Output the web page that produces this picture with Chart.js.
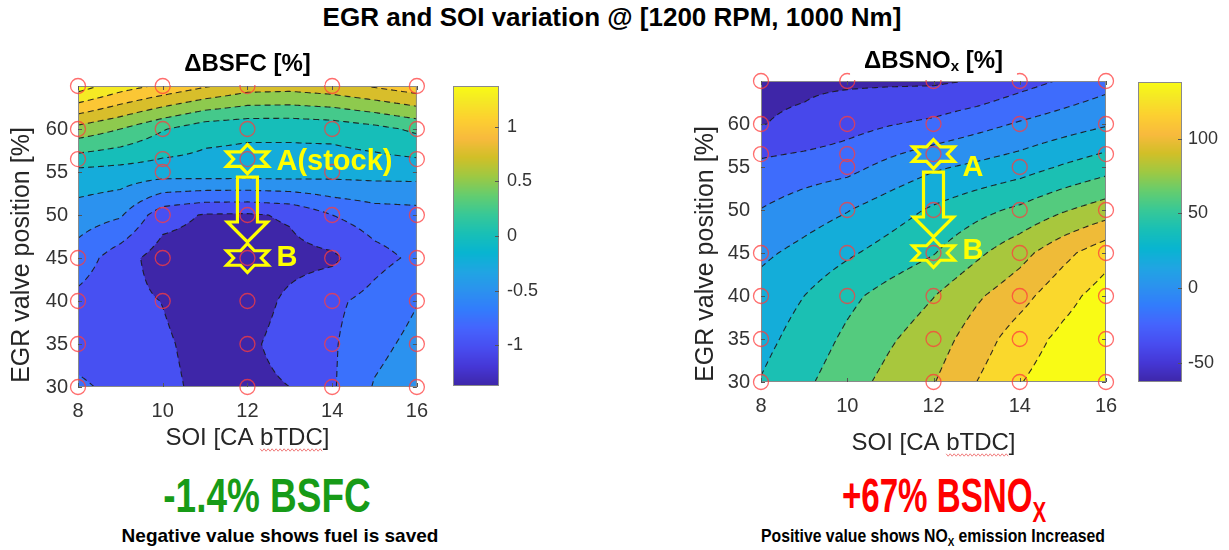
<!DOCTYPE html>
<html>
<head>
<meta charset="utf-8">
<script src="https://cdn.jsdelivr.net/npm/chart.js@4/dist/chart.umd.min.js"></script>
<style>
  body { margin: 0; width: 1229px; height: 550px; overflow: hidden; position: relative; background: #fff;
         font-family: "Liberation Sans", Arial, Helvetica, sans-serif; }
  canvas { position: absolute; top: 0; }
  .t { position: absolute; white-space: nowrap; font-weight: bold; line-height: 1; }
  .main { font-size: 26px; color: #000; transform: translateX(-50%); }
  .big { font-size: 48px; }
  .small { font-size: 19px; color: #000; }
  .sub { font-size: 0.62em; position: relative; top: 0.32em; }
</style>
</head>
<body>
<div class="t main" style="left:612px; top:4px">EGR and SOI variation @ [1200 RPM, 1000 Nm]</div>
<canvas id="bsfc" width="440" height="460" style="left:0"></canvas>
<canvas id="bsfcBar" width="100" height="460" style="left:440px"></canvas>
<canvas id="nox" width="440" height="460" style="left:690px"></canvas>
<canvas id="noxBar" width="99" height="460" style="left:1130px"></canvas>
<div class="t big" style="left:267px; top:472px; color:#179b17; transform:translateX(-50%) scaleX(0.77)">-1.4% BSFC</div>
<div class="t small" style="left:280px; top:526px; transform:translateX(-50%) scaleX(1)">Negative value shows fuel is saved</div>
<div class="t big" style="left:944px; top:472px; color:#ff0000; transform:translateX(-50%) scaleX(0.69)">+67% BSNO<span class="sub">X</span></div>
<div class="t small" style="left:933px; top:526px; transform:translateX(-50%) scaleX(0.83)">Positive value shows NO<span class="sub">X</span> emission Increased</div>

<script>
const FONT = '"Liberation Sans", Arial, Helvetica, sans-serif';

// measurement grid: start of injection (columns) x EGR valve position (rows)
const soiAxis = [8, 9, 10, 11, 12, 13, 14, 15, 16];
const egrAxis = [30, 35, 40, 45, 50, 55, 60, 65];
const soiTicks = [8, 10, 12, 14, 16];
const egrTicks = [30, 35, 40, 45, 50, 55, 60];

// change in BSFC [%], one row per EGR position
const bsfcDelta = [
  [-0.95, -1.08, -1.2,   -1.3,  -1.32, -1.25, -1.03, -0.73, -0.6],
  [-1.12, -1.18, -1.22,  -1.32, -1.3,  -1.15, -1.03, -0.82, -0.68],
  [-1.07, -1.18, -1.255, -1.36, -1.37, -1.2,  -1.05, -0.92, -0.76],
  [-0.86, -1.14, -1.37,  -1.37, -1.36, -1.33, -1.3,  -1.08, -0.95],
  [-0.62, -0.72, -1.15,  -1.27, -1.28, -1.22, -1.0,  -0.88, -0.85],
  [-0.32, -0.35, -0.38,  -0.36, -0.36, -0.36, -0.4,  -0.4,  -0.4],
  [0.41,  0.25,  0.02,   -0.16, -0.2,  -0.2,  -0.17, -0.08, 0.05],
  [1.38,  1.12,  0.95,   0.78,  0.62,  0.6,   0.66,  0.78,  0.9]
];

// change in BSNOx [%], one row per EGR position
const noxDelta = [
  [21,    36,  52,  66,  79,   100, 119, 132, 138],
  [14,    28,  44,  58,  70,   90,  110, 125, 136],
  [8,     20,  35,  48,  59.5, 77,  93,  113, 129],
  [-4,    6,   17,  28,  39,   56,  73,  94,  113],
  [-19.5, -10, -1,  11,  23,   34,  44,  58,  70],
  [-35,   -30, -26, -14, -3,   4,   11,  22,  32],
  [-60.5, -57, -48, -41, -36,  -27, -18, -10, -2],
  [-63,   -63, -63, -63, -63,  -59, -48, -38, -28]
];

const bsfcLevels = [-1.25, -1, -0.75, -0.5, -0.25, 0, 0.25, 0.5, 0.75, 1, 1.25];
const noxLevels = [-60, -40, -20, 0, 20, 40, 60, 80, 100, 120];
const bsfcRange = [-1.375, 1.375];
const noxRange = [-63, 138];
const bsfcBarTicks = [-1, -0.5, 0, 0.5, 1];
const noxBarTicks = [-50, 0, 50, 100];

// operating points that were actually run
const sampleSOI = [8, 8, 8, 8, 8, 8, 8,
                   10, 10, 10, 10, 10, 10, 10,
                   12, 12, 12, 12, 12, 12, 12, 12,
                   14, 14, 14, 14, 14, 14, 14, 14,
                   16, 16, 16, 16, 16, 16, 16, 16];
const sampleEGR = [30, 35, 40, 45, 56.5, 60, 65,
                   40, 45, 50, 55, 56.5, 60, 65,
                   30, 35, 40, 45, 50, 56.5, 60, 65,
                   30, 35, 40, 45, 50, 55, 60, 65,
                   30, 35, 40, 45, 50, 56.5, 60, 65];
const stockPoint = [12, 56.5];
const tunedPoint = [12, 45];

// parula, sampled every 4th entry of the 64-step table
const parulaRGB = [
  [0.2422, 0.1504, 0.6603], [0.2706, 0.2147, 0.8364], [0.2813, 0.3006, 0.9414], [0.2699, 0.3892, 0.9906],
  [0.1963, 0.4847, 0.9892], [0.1687, 0.5703, 0.9359], [0.1248, 0.6459, 0.8883], [0.0297, 0.7082, 0.8163],
  [0.0964, 0.7500, 0.7120], [0.2161, 0.7843, 0.5923], [0.3909, 0.8029, 0.4354], [0.6174, 0.7876, 0.2612],
  [0.8203, 0.7498, 0.1535], [0.9728, 0.7298, 0.2394], [0.9892, 0.8136, 0.1885], [0.9597, 0.9135, 0.1423],
  [0.9769, 0.9839, 0.0805]
];
const parulaPos = [0, 4, 8, 12, 16, 20, 24, 28, 32, 36, 40, 44, 48, 52, 56, 60, 63].map(r => r / 63);

function parula(t) {
  t = Math.max(0, Math.min(1, t));
  let k = 0;
  while (k < parulaPos.length - 2 && t > parulaPos[k + 1]) k++;
  const f = (t - parulaPos[k]) / (parulaPos[k + 1] - parulaPos[k]);
  return parulaRGB[k].map((c, i) => Math.round(255 * (c + (parulaRGB[k + 1][i] - c) * f)));
}

function bandColors(levels, range) {
  const t = v => (v - range[0]) / (range[1] - range[0]);
  const out = [parula(0)];
  for (let k = 1; k < levels.length; k++) out.push(parula(t(levels[k])));
  out.push(parula(1));
  return out;
}

function bandIndex(v, levels) {
  let k = 0;
  while (k < levels.length && v >= levels[k]) k++;
  return k;
}

function fieldAt(grid, x, y) {
  let i = 0, j = 0;
  while (i < soiAxis.length - 2 && x > soiAxis[i + 1]) i++;
  while (j < egrAxis.length - 2 && y > egrAxis[j + 1]) j++;
  let fx = (x - soiAxis[i]) / (soiAxis[i + 1] - soiAxis[i]);
  let fy = (y - egrAxis[j]) / (egrAxis[j + 1] - egrAxis[j]);
  fx = Math.max(0, Math.min(1, fx));
  fy = Math.max(0, Math.min(1, fy));
  const a = grid[j][i], b = grid[j][i + 1], c = grid[j + 1][i], d = grid[j + 1][i + 1];
  return a * (1 - fx) * (1 - fy) + b * fx * (1 - fy) + c * (1 - fx) * fy + d * fx * fy;
}

// marching squares on a fine resample, chained into polylines so the dashes run on
function traceLevel(F, nx, ny, lev) {
  const pos = new Map(), nb = new Map();
  const node = (h, i, j) => {
    const k = (h ? 'h' : 'v') + i + ',' + j;
    if (!pos.has(k)) {
      const i2 = h ? i + 1 : i, j2 = h ? j : j + 1;
      const a = F[j * nx + i], b = F[j2 * nx + i2];
      const f = (lev - a) / (b - a);
      pos.set(k, [i + (i2 - i) * f, j + (j2 - j) * f]);
      nb.set(k, []);
    }
    return k;
  };
  const seg = (p, q) => { nb.get(p).push(q); nb.get(q).push(p); };
  for (let j = 0; j < ny - 1; j++) {
    for (let i = 0; i < nx - 1; i++) {
      const bl = F[j * nx + i], br = F[j * nx + i + 1], tr = F[(j + 1) * nx + i + 1], tl = F[(j + 1) * nx + i];
      const c = (bl >= lev) | (br >= lev) << 1 | (tr >= lev) << 2 | (tl >= lev) << 3;
      if (c === 0 || c === 15) continue;
      const B = () => node(true, i, j), R = () => node(false, i + 1, j);
      const T = () => node(true, i, j + 1), L = () => node(false, i, j);
      const mid = (bl + br + tr + tl) / 4 >= lev;
      switch (c) {
        case 1: case 14: seg(L(), B()); break;
        case 2: case 13: seg(B(), R()); break;
        case 3: case 12: seg(L(), R()); break;
        case 4: case 11: seg(R(), T()); break;
        case 6: case 9: seg(B(), T()); break;
        case 7: case 8: seg(L(), T()); break;
        case 5: if (mid) { seg(L(), T()); seg(B(), R()); } else { seg(L(), B()); seg(R(), T()); } break;
        case 10: if (mid) { seg(L(), B()); seg(R(), T()); } else { seg(B(), R()); seg(L(), T()); } break;
      }
    }
  }
  const used = new Set(), lines = [];
  const walk = start => {
    const pts = [pos.get(start)];
    used.add(start);
    let cur = start;
    for (;;) {
      const nxt = nb.get(cur).find(k => !used.has(k));
      if (nxt === undefined) break;
      used.add(nxt);
      pts.push(pos.get(nxt));
      cur = nxt;
    }
    return pts;
  };
  for (const [k, list] of nb) if (list.length === 1 && !used.has(k)) lines.push({ pts: walk(k), closed: false });
  for (const k of nb.keys()) if (!used.has(k)) lines.push({ pts: walk(k), closed: true });
  return lines;
}

function buildContours(grid, levels) {
  const nx = 161, ny = 281;
  const x0 = soiAxis[0], x1 = soiAxis[soiAxis.length - 1];
  const y0 = egrAxis[0], y1 = egrAxis[egrAxis.length - 1];
  const dx = (x1 - x0) / (nx - 1), dy = (y1 - y0) / (ny - 1);
  const F = new Float64Array(nx * ny);
  for (let j = 0; j < ny; j++) for (let i = 0; i < nx; i++) F[j * nx + i] = fieldAt(grid, x0 + i * dx, y0 + j * dy);
  const all = [];
  levels.forEach(lev => traceLevel(F, nx, ny, lev).forEach(l => {
    all.push({ closed: l.closed, pts: l.pts.map(([i, j]) => [x0 + i * dx, y0 + j * dy]) });
  }));
  return all;
}

function contourLayer(view) {
  const colors = bandColors(view.levels, view.range);
  const lines = buildContours(view.grid, view.levels);
  return {
    id: 'contourLayer',
    beforeDatasetsDraw(chart) {
      const { ctx, chartArea: a, scales: { x, y } } = chart;
      const left = Math.round(a.left), top = Math.round(a.top);
      const w = Math.round(a.right) - left, h = Math.round(a.bottom) - top;
      const img = ctx.createImageData(w, h);
      const xv = [], yv = [];
      for (let p = 0; p < w * 2; p++) xv.push(x.getValueForPixel(left + (p + 0.5) / 2));
      for (let p = 0; p < h * 2; p++) yv.push(y.getValueForPixel(top + (p + 0.5) / 2));
      for (let r = 0; r < h; r++) {
        for (let c = 0; c < w; c++) {
          let R = 0, G = 0, B = 0;
          for (let s = 0; s < 4; s++) {
            const col = colors[bandIndex(fieldAt(view.grid, xv[2 * c + (s & 1)], yv[2 * r + (s >> 1)]), view.levels)];
            R += col[0]; G += col[1]; B += col[2];
          }
          const o = (r * w + c) * 4;
          img.data[o] = R / 4; img.data[o + 1] = G / 4; img.data[o + 2] = B / 4; img.data[o + 3] = 255;
        }
      }
      ctx.putImageData(img, left, top);

      ctx.save();
      ctx.beginPath();
      ctx.rect(a.left, a.top, a.width, a.height);
      ctx.clip();
      ctx.setLineDash([6, 4]);
      ctx.lineWidth = 1.1;
      ctx.strokeStyle = 'rgba(25,25,25,0.9)';
      lines.forEach(l => {
        ctx.beginPath();
        l.pts.forEach(([vx, vy], k) => {
          const px = x.getPixelForValue(vx), py = y.getPixelForValue(vy);
          if (k) ctx.lineTo(px, py); else ctx.moveTo(px, py);
        });
        if (l.closed) ctx.closePath();
        ctx.stroke();
      });
      ctx.restore();

      // axes box with inward ticks
      ctx.save();
      ctx.strokeStyle = '#8a8a8a';
      ctx.lineWidth = 1;
      ctx.strokeRect(a.left + 0.5, a.top + 0.5, a.width - 1, a.height - 1);
      ctx.strokeStyle = '#555';
      ctx.beginPath();
      x.ticks.forEach(t => {
        const p = Math.round(x.getPixelForValue(t.value)) + 0.5;
        ctx.moveTo(p, a.bottom); ctx.lineTo(p, a.bottom - 4);
        ctx.moveTo(p, a.top); ctx.lineTo(p, a.top + 4);
      });
      y.ticks.forEach(t => {
        const p = Math.round(y.getPixelForValue(t.value)) + 0.5;
        ctx.moveTo(a.left, p); ctx.lineTo(a.left + 4, p);
        ctx.moveTo(a.right, p); ctx.lineTo(a.right - 4, p);
      });
      ctx.stroke();
      ctx.restore();
    }
  };
}

function drawStar(ctx, cx, cy) {
  ctx.beginPath();
  for (let k = 0; k < 12; k++) {
    const ang = -Math.PI / 2 + k * Math.PI / 6;
    const rr = k % 2 === 0 ? 1 : 0.577;
    const px = cx + Math.cos(ang) * 24 * rr, py = cy + Math.sin(ang) * 14.5 * rr;
    if (k) ctx.lineTo(px, py); else ctx.moveTo(px, py);
  }
  ctx.closePath();
  ctx.stroke();
}

function overlay(view) {
  return {
    id: 'overlay',
    afterDatasetsDraw(chart) {
      const { ctx, chartArea: a, scales: { x, y } } = chart;
      const cx = (a.left + a.right) / 2;
      const big = 'bold 24px ' + FONT, small = 'bold 15px ' + FONT;

      // subplot title sits on an opaque box that hides the top edge markers
      ctx.save();
      let total = 0;
      view.title.forEach(([s, sub]) => { ctx.font = sub ? small : big; total += ctx.measureText(s).width; });
      ctx.fillStyle = '#fff';
      ctx.fillRect(cx - total / 2 - 14, a.top - 40, total + 28, 39);
      ctx.fillStyle = '#000';
      ctx.textBaseline = 'middle';
      ctx.textAlign = 'left';
      let tx = cx - total / 2;
      view.title.forEach(([s, sub]) => {
        ctx.font = sub ? small : big;
        ctx.fillText(s, tx, view.titleY + (sub ? 6 : 0));
        tx += ctx.measureText(s).width;
      });
      ctx.restore();

      const ax = x.getPixelForValue(stockPoint[0]), ay = y.getPixelForValue(stockPoint[1]);
      const bx = x.getPixelForValue(tunedPoint[0]), by = y.getPixelForValue(tunedPoint[1]);
      ctx.save();
      ctx.strokeStyle = '#ffff00';
      ctx.fillStyle = '#ffff00';
      ctx.lineWidth = 3.2;
      ctx.lineJoin = 'miter';
      drawStar(ctx, ax, ay);
      drawStar(ctx, bx, by);
      // hollow arrow from the stock point down to the new point
      const top = ay + 18, tip = by - 16, neck = tip - 20;
      ctx.beginPath();
      ctx.moveTo(ax - 10, top); ctx.lineTo(ax + 10, top); ctx.lineTo(ax + 10, neck);
      ctx.lineTo(ax + 20, neck); ctx.lineTo(bx, tip); ctx.lineTo(ax - 20, neck);
      ctx.lineTo(ax - 10, neck); ctx.closePath();
      ctx.stroke();
      ctx.font = 'bold 29px ' + FONT;
      ctx.textBaseline = 'middle';
      ctx.textAlign = 'left';
      ctx.fillText(view.labelA, ax + 29, ay + view.labelAdy);
      ctx.fillText('B', bx + 29, by + view.labelBdy);
      ctx.restore();

      // axis titles
      ctx.save();
      ctx.fillStyle = '#262626';
      ctx.font = '25px ' + FONT;
      ctx.textAlign = 'center';
      ctx.textBaseline = 'middle';
      ctx.save();
      ctx.translate(view.yTitleX, view.yTitleY);
      ctx.rotate(-Math.PI / 2);
      ctx.fillText('EGR valve position [%]', 0, 0);
      ctx.restore();
      ctx.font = '24px ' + FONT;
      const xt = 'SOI [CA bTDC]';
      ctx.fillText(xt, cx, view.xTitleY);
      // spell-check squiggle under the abbreviation
      const w0 = ctx.measureText(xt).width, wPre = ctx.measureText('SOI [CA ').width, wWord = ctx.measureText('bTDC').width;
      const sx = cx - w0 / 2 + wPre, sy = view.xTitleY + 12;
      ctx.strokeStyle = 'rgba(235,80,80,0.75)';
      ctx.lineWidth = 1;
      ctx.beginPath();
      for (let k = 0; k <= wWord; k += 2) {
        const yy = sy + ((k / 2) % 2 ? 1.2 : -1.2);
        if (k) ctx.lineTo(sx + k, yy); else ctx.moveTo(sx + k, yy);
      }
      ctx.stroke();
      ctx.restore();
    }
  };
}

const axisScale = (ticks, min, max, fit, pad) => ({
  type: 'linear', min, max,
  afterBuildTicks: s => { s.ticks = ticks.map(v => ({ value: v })); },
  afterFit: fit,
  grid: { display: false, drawTicks: false },
  border: { display: false },
  ticks: { padding: pad, color: '#333', font: { family: FONT, size: 20 }, autoSkip: false, maxRotation: 0,
           callback: v => String(v) }
});

function plotChart(id, view) {
  return new Chart(document.getElementById(id), {
    type: 'scatter',
    data: {
      datasets: [{
        data: sampleSOI.map((s, i) => ({ x: s, y: sampleEGR[i] })),
        pointRadius: 7.5, pointHoverRadius: 7.5, pointBorderWidth: 1.3,
        pointBorderColor: 'rgba(255,60,60,0.75)', pointBackgroundColor: 'rgba(0,0,0,0)',
        clip: false
      }]
    },
    options: {
      responsive: false, animation: false, devicePixelRatio: 1, events: [],
      layout: { padding: view.pad },
      plugins: { legend: { display: false }, tooltip: { enabled: false } },
      scales: {
        x: axisScale(soiTicks, soiAxis[0], soiAxis[soiAxis.length - 1], s => { s.height = view.xH; }, view.xPad),
        y: axisScale(egrTicks, egrAxis[0], egrAxis[egrAxis.length - 1], s => { s.width = view.yW; }, view.yPad)
      }
    },
    plugins: [contourLayer(view), overlay(view)]
  });
}

function colorbarLayer(range) {
  return {
    id: 'colorbarLayer',
    beforeDatasetsDraw(chart) {
      const { ctx, chartArea: a, scales: { y } } = chart;
      for (let py = Math.floor(a.top); py < Math.ceil(a.bottom); py++) {
        const c = parula((y.getValueForPixel(py + 0.5) - range[0]) / (range[1] - range[0]));
        ctx.fillStyle = 'rgb(' + c.join(',') + ')';
        ctx.fillRect(a.left, py, a.width, 1);
      }
      ctx.save();
      ctx.strokeStyle = '#8a8a8a';
      ctx.strokeRect(a.left + 0.5, a.top + 0.5, a.width - 1, a.height - 1);
      ctx.strokeStyle = '#555';
      ctx.beginPath();
      y.ticks.forEach(t => {
        const p = Math.round(y.getPixelForValue(t.value)) + 0.5;
        ctx.moveTo(a.right, p); ctx.lineTo(a.right - 4, p);
      });
      ctx.stroke();
      ctx.restore();
    }
  };
}

function barChart(id, range, ticks, bar) {
  return new Chart(document.getElementById(id), {
    type: 'scatter',
    data: { datasets: [] },
    options: {
      responsive: false, animation: false, devicePixelRatio: 1, events: [],
      layout: { padding: { left: bar.left, top: bar.top, right: 0, bottom: bar.bottom } },
      plugins: { legend: { display: false }, tooltip: { enabled: false } },
      scales: {
        x: { display: false },
        y: {
          position: 'right', min: range[0], max: range[1],
          afterBuildTicks: s => { s.ticks = ticks.map(v => ({ value: v })); },
          afterFit: s => { s.width = bar.w; },
          grid: { display: false, drawTicks: false },
          border: { display: false },
          ticks: { padding: bar.pad, color: '#333', font: { family: FONT, size: 18 }, callback: v => String(v) }
        }
      }
    },
    plugins: [colorbarLayer(range)]
  });
}

plotChart('bsfc', {
  grid: bsfcDelta, levels: bsfcLevels, range: bsfcRange,
  pad: { left: 0, top: 86, right: 16, bottom: 0 }, xH: 73, yW: 78, xPad: 12, yPad: 10,
  title: [['\u0394BSFC [%]', false]], titleY: 64,
  yTitleX: 22, yTitleY: 255, xTitleY: 438,
  labelA: 'A(stock)', labelAdy: 3, labelBdy: 0
});
barChart('bsfcBar', bsfcRange, bsfcBarTicks, { left: 13, top: 86, bottom: 74, w: 41, pad: 8 });

plotChart('nox', {
  grid: noxDelta, levels: noxLevels, range: noxRange,
  pad: { left: 0, top: 81, right: 24, bottom: 0 }, xH: 78, yW: 71, xPad: 12, yPad: 11,
  title: [['\u0394BSNO', false], ['x', true], [' [%]', false]], titleY: 61,
  yTitleX: 16, yTitleY: 254, xTitleY: 443,
  labelA: 'A', labelAdy: 14, labelBdy: -2
});
barChart('noxBar', noxRange, noxBarTicks, { left: 8, top: 82, bottom: 78, w: 47, pad: 6 });
</script>
</body>
</html>
